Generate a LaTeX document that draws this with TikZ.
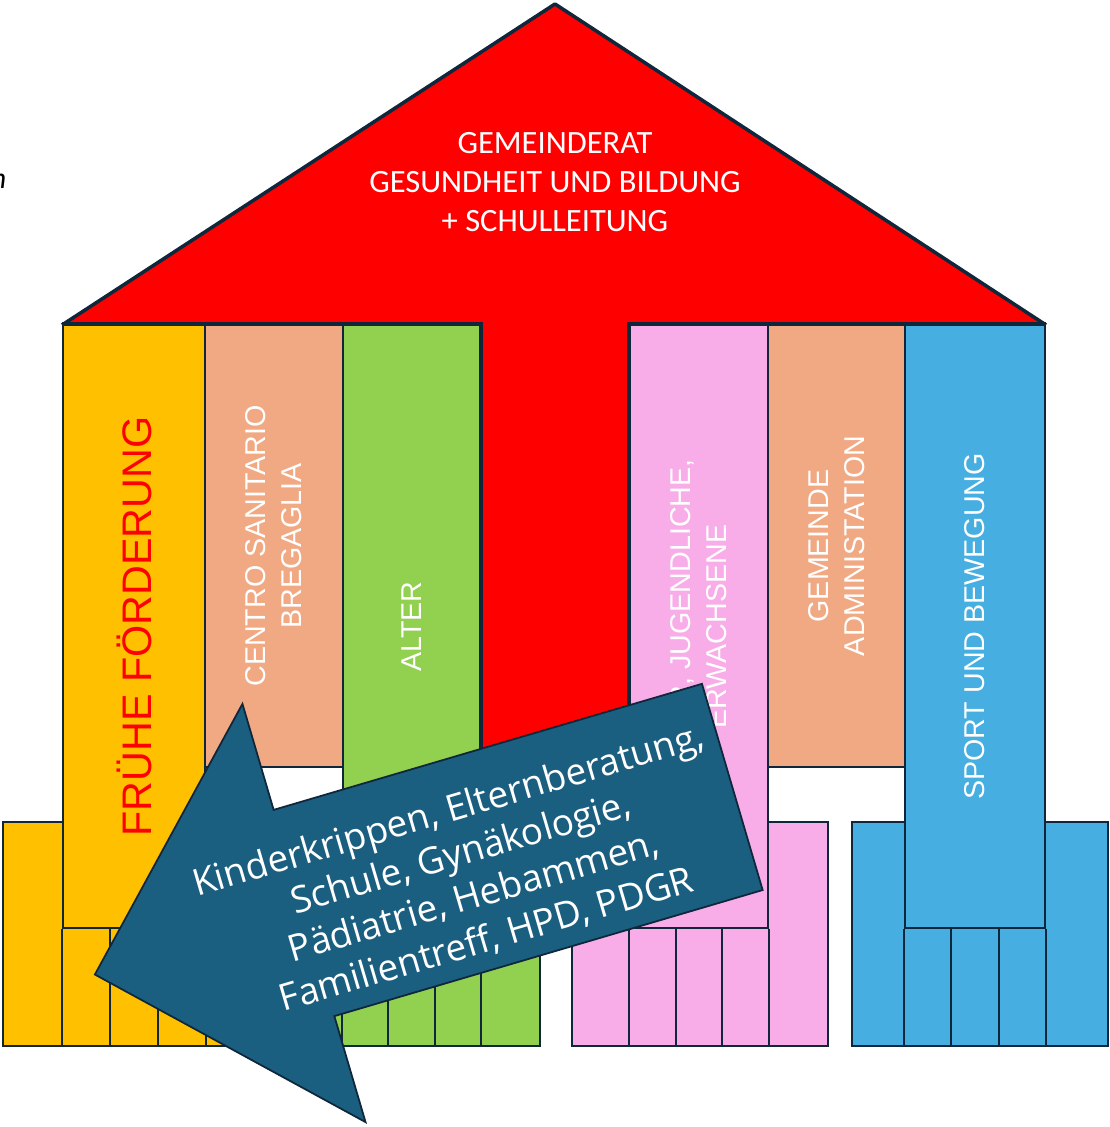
\documentclass[tikz,border=0pt]{standalone}
\usepackage{fontspec}
\setmainfont{Liberation Sans}
\newfontfamily\roofont{Carlito}
\newfontfamily\arrowfont{Open Sans}
\usetikzlibrary{calc,fit,positioning}

\definecolor{roofred}{HTML}{FF0000}
\definecolor{edge}{HTML}{10263A}
\definecolor{pyellow}{HTML}{FFC000}
\definecolor{psalmon}{HTML}{F1A983}
\definecolor{pgreen}{HTML}{92D050}
\definecolor{ppink}{HTML}{F8ADE8}
\definecolor{pblue}{HTML}{46AEE0}
\definecolor{arrowblue}{HTML}{1A5E80}

\begin{document}
\begin{tikzpicture}[outline/.style = {draw=edge, line width=1.1pt}]
	\tikzset{pillar/.style={draw=edge, line width=1.1pt, rectangle, inner sep=0pt}}
	\tikzset{coltext/.style={text=white, align=center, font=\fontsize{16.3}{20.5}\selectfont}}

	\useasboundingbox (0,0) rectangle (22.2,22.54);

	% Dach
	\coordinate (roofl) at (1.24,16.04);
	\coordinate (apex) at (11.1,22.46);
	\coordinate (roofr) at (20.92,16.04);
	\fill[roofred] (roofl) -- (apex) -- (roofr) -- cycle;
	\fill[roofred] (9.6,5.5) rectangle (12.6,16.04);
	\draw[edge, line width=2pt, line join=round] (roofl) -- (apex) -- (roofr);

	\node[anchor=east, inner sep=0pt, font=\roofont\itshape\fontsize{17}{17}\selectfont] (rest) at (0.13,18.92) {n};

	% Sockel
	\draw[outline, fill=pyellow] (0.06,1.62) rectangle (5.3,6.1);
	\draw[outline, fill=pgreen] (5.66,1.62) rectangle (10.8,6.1);
	\draw[outline, fill=ppink] (11.44,1.62) rectangle (16.56,6.1);
	\draw[outline, fill=pblue] (17.04,1.62) rectangle (22.16,6.1);

	% Saeulen
	\node[fit={(1.26,3.98) (4.1,16.04)}, pillar, fill=pyellow] (fruehe) {};
	\node[fit={(4.1,7.2) (6.86,16.04)}, pillar, fill=psalmon] (centro) {};
	\node[fit={(6.86,3.98) (9.6,16.04)}, pillar, fill=pgreen] (alter) {};
	\node[fit={(12.6,3.98) (15.36,16.04)}, pillar, fill=ppink] (kinder) {};
	\node[fit={(15.36,7.2) (18.1,16.04)}, pillar, fill=psalmon] (gemeinde) {};
	\node[fit={(18.1,3.98) (20.9,16.04)}, pillar, fill=pblue] (sport) {};

	\foreach \p in {fruehe,alter,kinder,sport}
		\foreach \t in {0,1/3,2/3,1}
			\draw[outline] ($(\p.south west)!\t!(\p.south east)$) -- ++(0,-2.36);

	\draw[edge, line width=2.4pt] (fruehe.north west) -- (alter.north east) -- (alter.south east);
	\draw[edge, line width=2.4pt] (kinder.south west) -- (kinder.north west) -- (sport.north east);

	\node[rotate=90, text=roofred, font=\fontsize{23.5}{28}\selectfont] (tfruehe) at (fruehe) {FRÜHE FÖRDERUNG};
	\node[rotate=90, coltext] (tcentro) at (centro) {CENTRO SANITARIO\\BREGAGLIA};
	\node[rotate=90, coltext] (talter) at (alter) {ALTER};
	\node[rotate=90, coltext] (tkinder) at (kinder) {KINDER, JUGENDLICHE,\\ERWACHSENE};
	\node[rotate=90, coltext] (tgemeinde) at (gemeinde) {GEMEINDE\\ADMINISTATION};
	\node[rotate=90, coltext] (tsport) at (sport) {SPORT UND BEWEGUNG};

	% Pfeil
	\begin{scope}[shift={(6.08,4.28)}, rotate=16.4]
		\draw[edge, fill=arrowblue, line width=1pt] (0,2.15) -- (8.93,2.15) -- (8.93,-2.15) -- (0,-2.15) -- (0,-4.36) -- (-4.36,0) -- (0,4.36) -- cycle;
		\node[rotate=16.4, text=white, align=center, font=\arrowfont\fontsize{21}{25.6}\selectfont] (angebot) at (3.35,-0.2) {Kinderkrippen, Elternberatung,\\Schule, Gynäkologie,\\Pädiatrie, Hebammen,\\Familientreff, HPD, PDGR};
	\end{scope}

	\node[text=white, align=center, font=\roofont\fontsize{18.5}{22.4}\selectfont] (rat) at (11.1,18.9) {GEMEINDERAT\\GESUNDHEIT UND BILDUNG\\+ SCHULLEITUNG};

\end{tikzpicture}
\end{document}
